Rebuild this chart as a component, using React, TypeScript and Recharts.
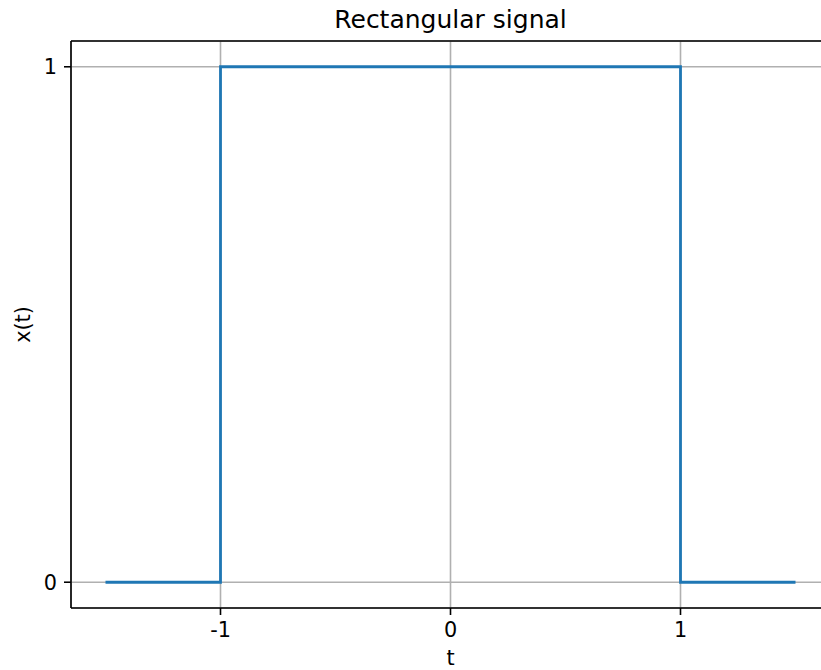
import {
  CartesianGrid,
  Line,
  LineChart,
  ReferenceLine,
  XAxis,
  YAxis,
} from "recharts";

const tValues = [-1.5, -1, -1, 1, 1, 1.5];
const xValues = [0, 0, 1, 1, 0, 0];
const xTicks = [-1, 0, 1];
const xTickLabels = ["-1", "0", "1"];
const yTicks = [0, 1];
const yTickLabels = ["0", "1"];

const data = tValues.map((t, i) => ({ t, x: xValues[i] }));

const FONT = "DejaVu Sans";
const tickStyle = { fontSize: 20.8, fill: "#000", fontFamily: FONT };

export default function App() {
  return (
    <div
      style={{
        position: "absolute",
        left: 0,
        top: 0,
        width: 821,
        height: 670,
        overflow: "hidden",
        background: "#fff",
        fontFamily: FONT,
      }}
    >
      <div
        style={{
          position: "absolute",
          left: 0,
          top: 7,
          width: 901,
          textAlign: "center",
          fontSize: 25,
          lineHeight: "25px",
          color: "#000",
        }}
      >
        Rectangular signal
      </div>
      <LineChart
        width={830}
        height={670}
        data={data}
        margin={{ top: 41, right: 0, left: 0, bottom: 0 }}
      >
        <CartesianGrid stroke="#b0b0b0" strokeWidth={1.6} />
        <XAxis
          dataKey="t"
          type="number"
          domain={[-1.65, 1.65]}
          ticks={xTicks}
          tickFormatter={(v) => xTickLabels[xTicks.indexOf(v)] ?? String(v)}
          allowDataOverflow
          height={62}
          tickSize={7}
          tickMargin={7}
          tick={tickStyle}
          stroke="#000"
          strokeWidth={1.6}
          label={{
            value: "t",
            position: "center",
            dy: 19,
            style: { fontSize: 20.8, fill: "#000", fontFamily: FONT },
          }}
        />
        <YAxis
          type="number"
          domain={[-0.05, 1.05]}
          ticks={yTicks}
          tickFormatter={(v) => yTickLabels[yTicks.indexOf(v)] ?? String(v)}
          allowDataOverflow
          width={71}
          tickSize={7}
          tickMargin={7}
          tick={tickStyle}
          stroke="#000"
          strokeWidth={1.6}
          label={{
            value: "x(t)",
            angle: -90,
            position: "center",
            dx: -13,
            style: { fontSize: 20.8, fill: "#000", fontFamily: FONT },
          }}
        />
        <ReferenceLine y={1.05} stroke="#000" strokeWidth={1.6} ifOverflow="visible" />
        <ReferenceLine x={1.65} stroke="#000" strokeWidth={1.6} ifOverflow="visible" />
        <Line
          dataKey="x"
          type="linear"
          stroke="#1f77b4"
          strokeWidth={2.8}
          dot={false}
          activeDot={false}
          isAnimationActive={false}
        />
      </LineChart>
    </div>
  );
}
